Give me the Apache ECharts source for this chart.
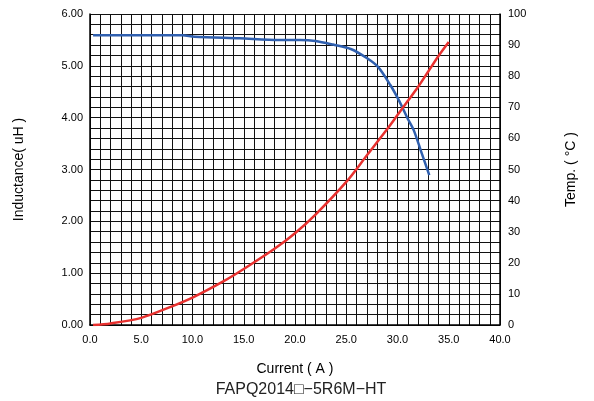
<!DOCTYPE html>
<html><head><meta charset="utf-8">
<script src="https://cdn.jsdelivr.net/npm/echarts@6/dist/echarts.min.js"></script>
<style>html,body{margin:0;padding:0;background:#fff}#c{width:594px;height:401px}</style>
</head><body><div id="c"></div>
<script>
const inductanceCurrent = [0.3, 3, 6, 9, 10.2, 14.6, 18.5, 20.5, 22, 23.7, 25.5, 27.0, 28.1, 29.3, 30.2, 31.0, 31.6, 32.3, 33.1];
const inductanceValues  = [5.59, 5.59, 5.59, 5.59, 5.56, 5.53, 5.50, 5.50, 5.48, 5.41, 5.32, 5.15, 4.98, 4.63, 4.31, 3.98, 3.75, 3.35, 2.89];
const tempCurrent = [0.3, 2, 5, 8, 10, 13, 15, 18, 20, 22, 25, 27, 29, 30, 31, 32, 33, 34, 35];
const tempValues  = [0, 0.5, 2.3, 6, 8.8, 14, 18, 24.5, 29.5, 35.5, 46, 54.5, 63, 67.5, 72, 76.5, 81.5, 86.5, 91];
const xTicks = [0, 5, 10, 15, 20, 25, 30, 35, 40];

const chart = echarts.init(document.getElementById('c'), null, {renderer: 'canvas'});
const font = 'Liberation Sans, Arial, sans-serif';
chart.setOption({
  animation: false,
  title: {
    text: 'FAPQ2014\u25A1\u22125R6M\u2212HT',
    left: 296, top: 377, textAlign: 'center',
    textStyle: {fontFamily: font, fontSize: 16, fontWeight: 'normal', color: '#222'}
  },
  grid: {left: 90, right: 94, top: 14, bottom: 76},
  xAxis: {
    type: 'value', min: 0, max: 40, interval: 5,
    name: 'Current ( A )', nameLocation: 'middle', nameGap: 37,
    nameTextStyle: {fontFamily: font, fontSize: 14, color: '#000'},
    axisLine: {show: true, onZero: false, lineStyle: {color: '#000', width: 1.5}},
    axisTick: {show: false},
    axisLabel: {fontFamily: font, fontSize: 11, color: '#000', margin: 9,
      formatter: v => xTicks.includes(v) ? v.toFixed(1) : ''},
    splitLine: {show: true, lineStyle: {color: '#111', width: 1}},
    minorTick: {show: false, splitNumber: 5},
    minorSplitLine: {show: true, lineStyle: {color: '#111', width: 1}}
  },
  yAxis: [{
    type: 'value', min: 0, max: 6, interval: 1,
    name: 'Inductance( uH )', nameLocation: 'middle', nameGap: 64, nameRotate: 90,
    nameTextStyle: {fontFamily: font, fontSize: 14, color: '#000'},
    axisLine: {show: true, lineStyle: {color: '#000', width: 1.5}},
    axisTick: {show: false},
    axisLabel: {fontFamily: font, fontSize: 11, color: '#000', margin: 7, formatter: v => v.toFixed(2)},
    splitLine: {show: true, lineStyle: {color: '#111', width: 1}},
    minorTick: {show: false, splitNumber: 5},
    minorSplitLine: {show: true, lineStyle: {color: '#111', width: 1}}
  }, {
    type: 'value', min: 0, max: 100, interval: 10, position: 'right',
    name: 'Temp. ( \u00B0C )', nameLocation: 'middle', nameGap: 64, nameRotate: 90,
    nameTextStyle: {fontFamily: font, fontSize: 14, color: '#000'},
    axisLine: {show: true, lineStyle: {color: '#000', width: 1.5}},
    axisTick: {show: false},
    axisLabel: {fontFamily: font, fontSize: 11, color: '#000', margin: 8},
    splitLine: {show: false}
  }],
  series: [{
    type: 'line', yAxisIndex: 0, smooth: 0.3, showSymbol: false,
    data: inductanceCurrent.map((x, i) => [x, inductanceValues[i]]),
    lineStyle: {color: '#2f5fae', width: 2.5}, z: 3
  }, {
    type: 'line', yAxisIndex: 1, smooth: 0.3, showSymbol: false,
    data: tempCurrent.map((x, i) => [x, tempValues[i]]),
    lineStyle: {color: '#e8312f', width: 2.5}, z: 4
  }]
});
</script></body></html>
